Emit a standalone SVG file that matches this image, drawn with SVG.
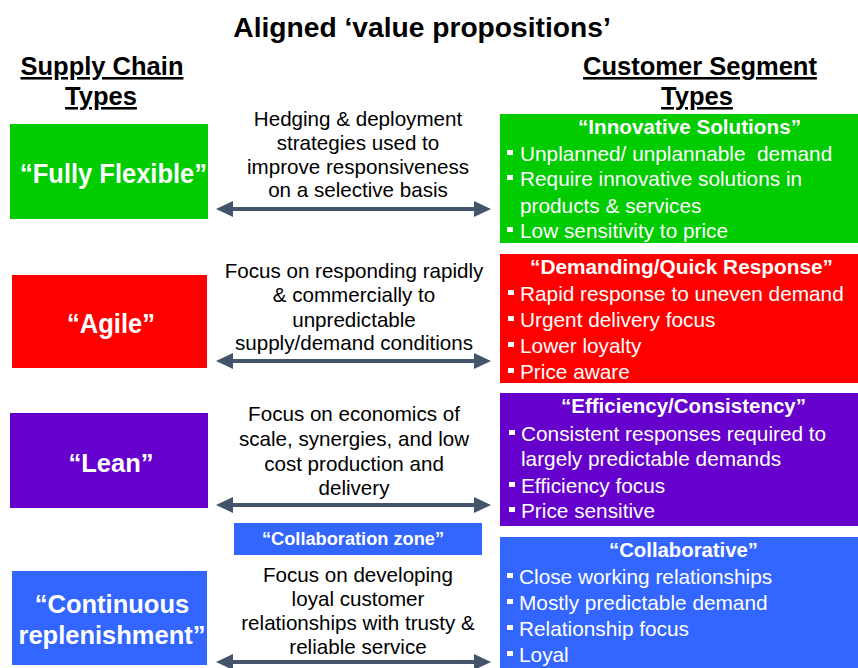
<svg xmlns="http://www.w3.org/2000/svg" width="858" height="668" viewBox="0 0 858 668">
<style>
text{font-family:"Liberation Sans",Arial,sans-serif}
.title{font-size:28.2px;font-weight:bold;fill:#000;text-anchor:middle}
.hd{font-size:25.5px;font-weight:bold;fill:#000;text-anchor:middle;text-decoration:underline}
.big{font-weight:bold;fill:#fff}
.mid{font-size:20.6px;fill:#000;text-anchor:middle}
.rh{font-size:20px;font-weight:bold;fill:#fff}
.bl{font-size:20.8px;fill:#fff}
.cz{font-size:17.5px;font-weight:bold;fill:#fff}
.g{fill:#00CC00}.r{fill:#FF0000}.p{fill:#6600CC}.b{fill:#3366FF}
.sq{fill:#fff}
.arr{stroke:#44546A;stroke-width:4;fill:none}
.ah{fill:#44546A}
</style>
<defs>
<g id="arrow">
<line class="arr" x1="228" y1="0" x2="479" y2="0"/>
<polygon class="ah" points="216,0 233,-8 233,8"/>
<polygon class="ah" points="491,0 474,-8 474,8"/>
</g>
</defs>
<text class="title" x="422" y="37">Aligned ‘value propositions’</text>
<text class="hd" x="102" y="75">Supply Chain</text>
<text class="hd" x="101" y="105">Types</text>
<text class="hd" x="700" y="75">Customer Segment</text>
<text class="hd" x="697" y="105">Types</text>

<g id="sc-flexible">
<rect class="g" x="10" y="124" width="198" height="95"/>
<text class="big" x="20" y="183" font-size="27.5" textLength="187" lengthAdjust="spacingAndGlyphs">“Fully Flexible”</text>
</g>
<g id="sc-agile">
<rect class="r" x="12" y="275" width="195" height="93"/>
<text class="big" x="67" y="333" font-size="27" textLength="88" lengthAdjust="spacingAndGlyphs">“Agile”</text>
</g>
<g id="sc-lean">
<rect class="p" x="10" y="413" width="198" height="95"/>
<text class="big" x="111" y="472" font-size="25.5" text-anchor="middle">“Lean”</text>
</g>
<g id="sc-continuous">
<rect class="b" x="12" y="571" width="195" height="94"/>
<text class="big" x="112" y="613" font-size="25.5" text-anchor="middle">“Continuous</text>
<text class="big" x="112" y="644" font-size="25.5" text-anchor="middle">replenishment”</text>
</g>

<g id="mid-flexible">
<text class="mid" x="358" y="126">Hedging &amp; deployment</text>
<text class="mid" x="358" y="150">strategies used to</text>
<text class="mid" x="358" y="174">improve responsiveness</text>
<text class="mid" x="358" y="197">on a selective basis</text>
</g>
<g id="mid-agile">
<text class="mid" x="354" y="278">Focus on responding rapidly</text>
<text class="mid" x="354" y="302">&amp; commercially to</text>
<text class="mid" x="354" y="327">unpredictable</text>
<text class="mid" x="354" y="350">supply/demand conditions</text>
</g>
<g id="mid-lean">
<text class="mid" x="354" y="421">Focus on economics of</text>
<text class="mid" x="354" y="446">scale, synergies, and low</text>
<text class="mid" x="354" y="471">cost production and</text>
<text class="mid" x="354" y="495">delivery</text>
</g>
<g id="collab-zone">
<rect class="b" x="234" y="523" width="248" height="32"/>
<text class="cz" x="262" y="545" textLength="182" lengthAdjust="spacingAndGlyphs">“Collaboration zone”</text>
</g>
<g id="mid-collab">
<text class="mid" x="358" y="582">Focus on developing</text>
<text class="mid" x="358" y="606">loyal customer</text>
<text class="mid" x="358" y="630">relationships with trusty &amp;</text>
<text class="mid" x="358" y="654">reliable service</text>
</g>

<g id="cs-innovative">
<rect class="g" x="500" y="114" width="358" height="129"/>
<text class="rh" x="578" y="134" textLength="223" lengthAdjust="spacingAndGlyphs">“Innovative Solutions”</text>
<rect class="sq" x="507" y="150" width="6" height="5"/>
<text class="bl" x="520" y="161" xml:space="preserve">Unplanned/ unplannable  demand</text>
<rect class="sq" x="507" y="175" width="6" height="5"/>
<text class="bl" x="520" y="186">Require innovative solutions in</text>
<text class="bl" x="520" y="213">products &amp; services</text>
<rect class="sq" x="507" y="227" width="6" height="5"/>
<text class="bl" x="520" y="238">Low sensitivity to price</text>
</g>
<g id="cs-demanding">
<rect class="r" x="500" y="254" width="358" height="129"/>
<text class="rh" x="530" y="274" textLength="303" lengthAdjust="spacingAndGlyphs">“Demanding/Quick Response”</text>
<rect class="sq" x="508" y="290" width="6" height="5"/>
<text class="bl" x="520" y="301">Rapid response to uneven demand</text>
<rect class="sq" x="508" y="316" width="6" height="5"/>
<text class="bl" x="520" y="327">Urgent delivery focus</text>
<rect class="sq" x="508" y="342" width="6" height="5"/>
<text class="bl" x="520" y="353">Lower loyalty</text>
<rect class="sq" x="508" y="368" width="6" height="5"/>
<text class="bl" x="520" y="379">Price aware</text>
</g>
<g id="cs-efficiency">
<rect class="p" x="500" y="393" width="358" height="133"/>
<text class="rh" x="561" y="413" textLength="245" lengthAdjust="spacingAndGlyphs">“Efficiency/Consistency”</text>
<rect class="sq" x="509" y="430" width="6" height="5"/>
<text class="bl" x="521" y="441">Consistent responses required to</text>
<text class="bl" x="521" y="466">largely predictable demands</text>
<rect class="sq" x="509" y="482" width="6" height="5"/>
<text class="bl" x="521" y="493">Efficiency focus</text>
<rect class="sq" x="509" y="507" width="6" height="5"/>
<text class="bl" x="521" y="518">Price sensitive</text>
</g>
<g id="cs-collaborative">
<rect class="b" x="500" y="537" width="358" height="131"/>
<text class="rh" x="609" y="557" textLength="149" lengthAdjust="spacingAndGlyphs">“Collaborative”</text>
<rect class="sq" x="507" y="573" width="6" height="5"/>
<text class="bl" x="519" y="584">Close working relationships</text>
<rect class="sq" x="507" y="599" width="6" height="5"/>
<text class="bl" x="519" y="610">Mostly predictable demand</text>
<rect class="sq" x="507" y="625" width="6" height="5"/>
<text class="bl" x="519" y="636">Relationship focus</text>
<rect class="sq" x="507" y="651" width="6" height="5"/>
<text class="bl" x="519" y="662">Loyal</text>
</g>

<g id="connectors">
<use href="#arrow" y="209"/>
<use href="#arrow" y="361"/>
<use href="#arrow" y="505"/>
<use href="#arrow" y="662"/>
</g>
</svg>
